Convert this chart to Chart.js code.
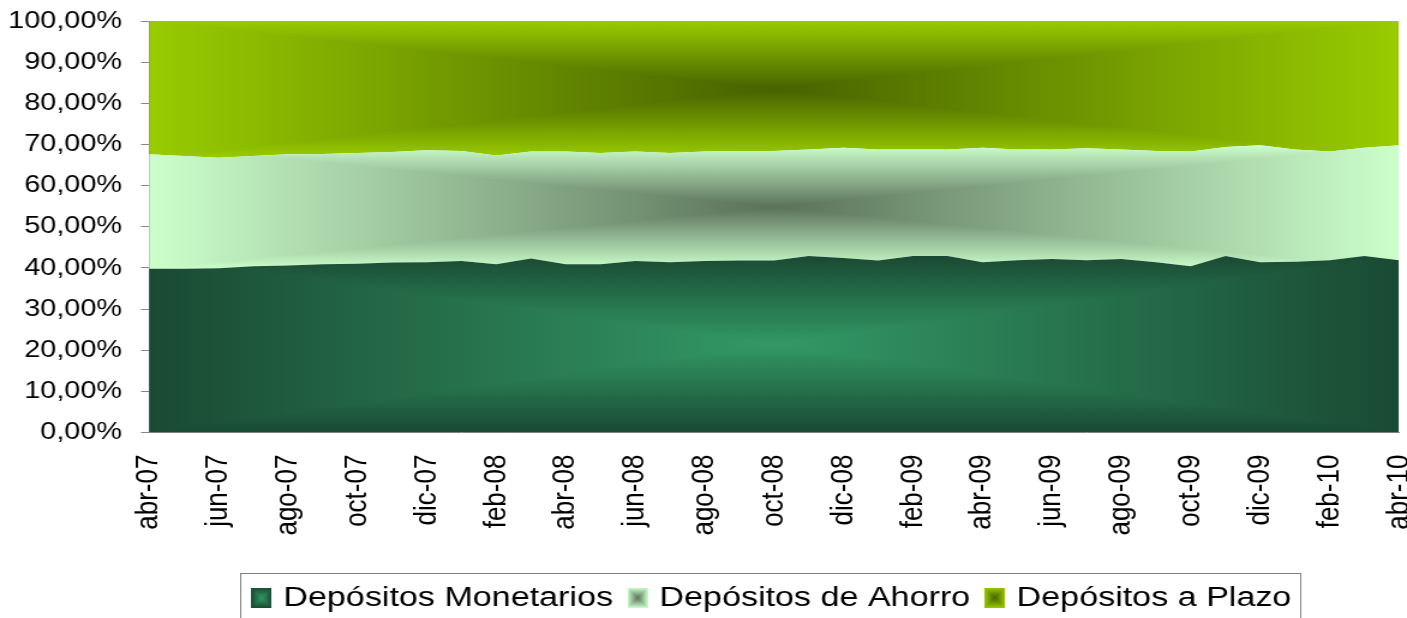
<!DOCTYPE html>
<html>
<head>
<meta charset="utf-8">
<script src="https://cdn.jsdelivr.net/npm/chart.js@4.4.1/dist/chart.umd.min.js"></script>
<style>
  html, body { margin: 0; padding: 0; background: #fff; overflow: hidden; }
  /* the original picture is stretched sideways, so draw narrower and stretch */
  #wrap { width: 1172px; height: 618px; transform: scaleX(1.2005); transform-origin: 0 0; }
</style>
</head>
<body>
<div id="wrap"><canvas id="chart" width="1172" height="618"></canvas></div>
<script>
const months = [
  'abr-07', 'may-07', 'jun-07', 'jul-07', 'ago-07', 'sep-07', 'oct-07', 'nov-07', 'dic-07',
  'ene-08', 'feb-08', 'mar-08', 'abr-08', 'may-08', 'jun-08', 'jul-08', 'ago-08', 'sep-08',
  'oct-08', 'nov-08', 'dic-08', 'ene-09', 'feb-09', 'mar-09', 'abr-09', 'may-09', 'jun-09',
  'jul-09', 'ago-09', 'sep-09', 'oct-09', 'nov-09', 'dic-09', 'ene-10', 'feb-10', 'mar-10', 'abr-10',
];

// share of total deposits, %
const monetarios = [
  39.8, 39.8, 39.9, 40.4, 40.6, 40.9, 41.0, 41.3, 41.4, 41.7, 40.9, 42.3, 40.9,
  40.9, 41.7, 41.4, 41.7, 41.8, 41.8, 42.9, 42.4, 41.8, 42.9, 42.9, 41.4, 41.9,
  42.2, 41.9, 42.2, 41.4, 40.4, 42.9, 41.4, 41.5, 41.9, 42.9, 41.9,
];
const ahorro = [
  27.8, 27.4, 26.9, 26.8, 27.0, 26.8, 26.9, 26.9, 27.2, 26.7, 26.4, 26.0, 27.4,
  27.0, 26.6, 26.5, 26.6, 26.6, 26.6, 25.9, 26.8, 27.0, 25.9, 25.9, 27.8, 26.9,
  26.6, 27.2, 26.6, 27.0, 27.9, 26.5, 28.4, 27.3, 26.4, 26.3, 27.9,
];
const plazo = [
  32.4, 32.8, 33.2, 32.8, 32.4, 32.3, 32.1, 31.8, 31.4, 31.6, 32.7, 31.7, 31.7,
  32.1, 31.7, 32.1, 31.7, 31.6, 31.6, 31.2, 30.8, 31.2, 31.2, 31.2, 30.8, 31.2,
  31.2, 30.9, 31.2, 31.6, 31.7, 30.6, 30.2, 31.2, 31.7, 30.8, 30.2,
];

const seriesNames = ['Depósitos Monetarios', 'Depósitos de Ahorro', 'Depósitos a Plazo'];
const seriesData  = [monetarios, ahorro, plazo];
const edgeColors   = ['#1a4a33', '#ccffcc', '#99cc00'];
const centerColors = ['#339966', '#5a725a', '#476200'];

const FONT = "'Liberation Sans', Arial, sans-serif";

/* ── Rectangular "from centre" gradient, like the office path fill ── */
function paintRectGradient(ctx, x0, y0, x1, y1, edge, center) {
  const cx = (x0 + x1) / 2, cy = (y0 + y1) / 2;
  const gh = ctx.createLinearGradient(x0, 0, x1, 0);
  gh.addColorStop(0, edge); gh.addColorStop(0.5, center); gh.addColorStop(1, edge);
  ctx.fillStyle = gh;
  ctx.fillRect(x0, y0, x1 - x0, y1 - y0);

  const gv = ctx.createLinearGradient(0, y0, 0, y1);
  gv.addColorStop(0, edge); gv.addColorStop(0.5, center); gv.addColorStop(1, edge);
  ctx.fillStyle = gv;
  ctx.beginPath();
  ctx.moveTo(x0, y0); ctx.lineTo(x1, y0); ctx.lineTo(cx, cy); ctx.closePath();
  ctx.moveTo(x0, y1); ctx.lineTo(x1, y1); ctx.lineTo(cx, cy); ctx.closePath();
  ctx.fill();
}

// vertical extent of each band of the stack
function bandRange(idx) {
  let lo = Infinity, hi = -Infinity;
  for (let k = 0; k < months.length; k++) {
    let base = 0;
    for (let s = 0; s < idx; s++) base += seriesData[s][k];
    lo = Math.min(lo, base);
    hi = Math.max(hi, base + seriesData[idx][k]);
  }
  return [lo, hi];
}

const patternCache = {};
function areaFill(idx) {
  return (context) => {
    const chart = context.chart;
    const area = chart.chartArea;
    const y = chart.scales.y;
    if (!area || !y) return edgeColors[idx];
    const key = idx + ':' + [area.left, area.top, area.right, area.bottom].join(',');
    if (patternCache[key]) return patternCache[key];
    const [lo, hi] = bandRange(idx);
    const off = document.createElement('canvas');
    off.width = chart.width; off.height = chart.height;
    paintRectGradient(off.getContext('2d'), area.left, y.getPixelForValue(hi),
      area.right, y.getPixelForValue(lo), edgeColors[idx], centerColors[idx]);
    patternCache[key] = chart.ctx.createPattern(off, 'no-repeat');
    return patternCache[key];
  };
}

/* ── Legend markers ──────────────────────────────────── */
const markerImages = seriesNames.map((_, i) => {
  const c = document.createElement('canvas');
  c.width = 17; c.height = 20;
  paintRectGradient(c.getContext('2d'), 0, 0, 17, 20, edgeColors[i], centerColors[i]);
  return c;
});

// grey frame round the legend, as in the original
const legendFrame = {
  id: 'legendFrame',
  afterDraw(chart) {
    const boxes = chart.legend && chart.legend.legendHitBoxes;
    if (!boxes || !boxes.length) return;
    const first = boxes[0], last = boxes[boxes.length - 1];
    const ctx = chart.ctx;
    ctx.save();
    ctx.strokeStyle = '#808080';
    ctx.lineWidth = 1;
    const left = Math.round(first.left - 13.5) + 0.5;
    const right = Math.round(last.left + last.width + 7.5) + 0.5;
    ctx.strokeRect(left, 573.5, right - left, 60);
    ctx.restore();
  },
};

new Chart(document.getElementById('chart'), {
  type: 'line',
  data: {
    labels: months,
    datasets: seriesNames.map((name, i) => ({
      label: name,
      data: seriesData[i],
      fill: i === 0 ? 'origin' : '-1',
      backgroundColor: areaFill(i),
      borderWidth: 0,
      pointRadius: 0,
      tension: 0,
    })),
  },
  options: {
    responsive: false,
    animation: false,
    events: [],
    layout: { padding: { top: 21, right: 6.6, bottom: -4, left: 0 } },
    plugins: {
      tooltip: { enabled: false },
      legend: {
        position: 'bottom',
        fullSize: false,
        labels: {
          usePointStyle: true,
          pointStyleWidth: 8,
          padding: 16.5,
          color: '#000',
          font: { family: FONT, size: 28.4 },
          generateLabels: () => seriesNames.map((name, i) => ({
            text: name,
            pointStyle: markerImages[i],
            fillStyle: edgeColors[i],
            strokeStyle: 'rgba(0,0,0,0)',
            lineWidth: 0,
            hidden: false,
            datasetIndex: i,
            fontColor: '#000',
          })),
        },
      },
    },
    scales: {
      x: {
        grid: { display: false, drawTicks: false },
        border: { color: '#868686' },
        ticks: {
          autoSkip: false,
          minRotation: 90,
          maxRotation: 90,
          padding: 22,
          color: '#000',
          font: { family: FONT, size: 26 },
          callback: (v, i) => (i % 2 === 0 ? months[i] : ''),
        },
        afterFit: s => { s.height = 134.5; s.paddingLeft = 0; s.paddingRight = 0; },
      },
      y: {
        stacked: true,
        min: 0,
        max: 100,
        grid: { drawOnChartArea: false, tickLength: 6.7, color: '#868686' },
        border: { color: '#868686' },
        ticks: {
          stepSize: 10,
          padding: 15.8,
          color: '#000',
          font: { family: FONT, size: 24 },
          callback: v => v.toFixed(2).replace('.', ',') + '%',
        },
        afterFit: s => { s.width = 124.1; s.paddingTop = 0; s.paddingBottom = 0; },
      },
    },
  },
  plugins: [legendFrame],
});
</script>
</body>
</html>
